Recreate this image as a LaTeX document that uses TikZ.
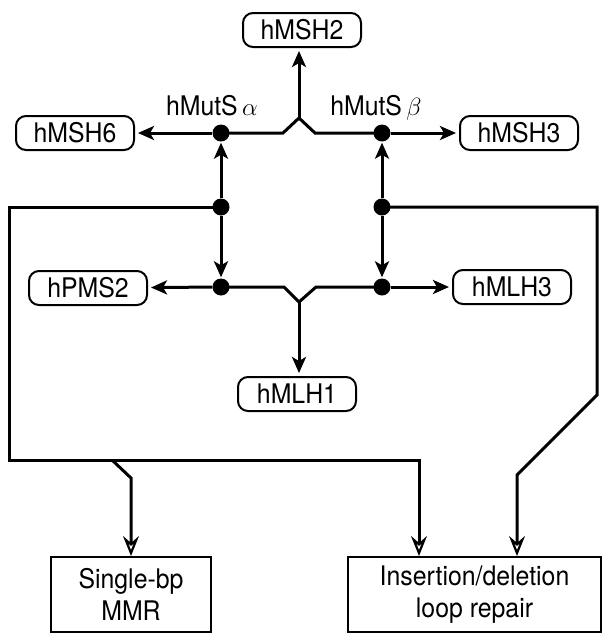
\documentclass[tikz,border=0pt]{standalone}
\usepackage{fontspec}
\setmainfont{TeX Gyre Heros}[FakeStretch=0.92]
\usetikzlibrary{arrows.meta}
\begin{document}
\begin{tikzpicture}[x=1pt,y=-1pt,
  every node/.style={font=\fontsize{27}{32}\selectfont},
  prot/.style={draw, line width=2pt, rounded corners=10pt, minimum width=118pt, minimum height=34pt, inner sep=1pt},
  outbox/.style={draw, line width=2pt, align=center, minimum height=75pt, inner sep=2pt},
  dot/.style={circle, fill=black, inner sep=0pt, minimum size=17pt},
  conn/.style={line width=3pt, line join=miter},
  fa/.style={conn, -{Stealth[length=16pt,width=14pt,inset=4pt]}, shorten >=3pt},
  oa/.style={conn, -{Stealth[open,length=20pt,width=16pt,inset=7pt,line width=2.2pt]}}
]
\useasboundingbox (0,0) rectangle (604,633);
% protein boxes
\node[prot] (msh2) at (302,30) {hMSH2};
\node[prot] (msh6) at (75,133) {hMSH6};
\node[prot] (msh3) at (519,133) {hMSH3};
\node[prot] (pms2) at (88,288) {hPMS2};
\node[prot] (mlh3) at (512,287) {hMLH3};
\node[prot] (mlh1) at (297,394) {hMLH1};
% outcome boxes
\node[outbox, minimum width=160pt] (sb) at (131,594.5) {Single-bp\\MMR};
\node[outbox, minimum width=253pt] (ins) at (474.5,594.5) {Insertion/deletion\\loop repair};
% labels
\node[anchor=base] (la) at (212,115) {hMutS\,$\alpha$};
\node[anchor=base] (lb) at (376,115) {hMutS\,$\beta$};
% dots
\node[dot] (da) at (221,133) {};
\node[dot] (db) at (382,133) {};
\node[dot] (ma) at (221,207) {};
\node[dot] (mb) at (382,207) {};
\node[dot] (ga) at (221,287) {};
\node[dot] (gb) at (382,287) {};
% top junction
\coordinate (t1) at (283,133);
\coordinate (tap) at (299,118);
\coordinate (t2) at (315,133);
\draw[conn] (da.center) -- (t1) -- (tap) -- (t2) -- (db.center);
\draw[fa] (tap) -- (tap |- msh2.south);
\draw[fa] (da) -- (msh6);
\draw[fa] (db) -- (msh3);
% vertical arrows
\draw[fa, shorten >=1pt] (ma) -- (da);
\draw[fa, shorten >=1pt] (mb) -- (db);
\draw[fa, shorten >=1pt] (ma) -- (ga);
\draw[fa, shorten >=1pt] (mb) -- (gb);
% lower junction
\coordinate (b1) at (284,287);
\coordinate (bap) at (299,302);
\coordinate (b2) at (316,287);
\draw[conn] (ga.center) -- (b1) -- (bap) -- (b2) -- (gb.center);
\draw[fa] (bap) -- (bap |- mlh1.north);
\draw[fa] (ga) -- (pms2);
\draw[fa] (gb) -- (mlh3);
% outer loops
\coordinate (l1) at (9,207);
\coordinate (l2) at (9,460);
\coordinate (l3) at (419,460);
\coordinate (s1) at (112,460);
\coordinate (s2) at (131,478);
\coordinate (r1) at (597,207);
\coordinate (r2) at (597,395);
\coordinate (r3) at (517,475);
\draw[oa] (ma.center) -- (l1) -- (l2) -- (l3) -- (l3 |- ins.north);
\draw[oa] (s1) -- (s2) -- (sb.north);
\draw[oa] (mb.center) -- (r1) -- (r2) -- (r3) -- (r3 |- ins.north);
\end{tikzpicture}
\end{document}
